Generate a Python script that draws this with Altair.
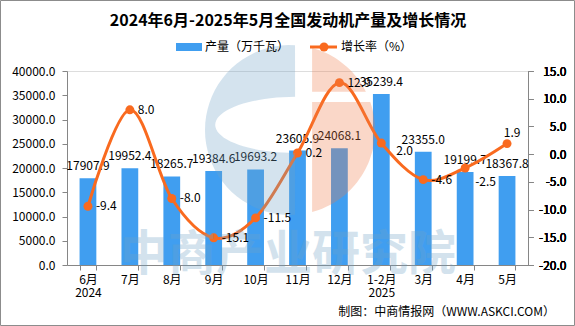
import math
import altair as alt
import pandas as pd

# ---------------- data ----------------
months = ["6月", "7月", "8月", "9月", "10月", "11月", "12月", "1-2月", "3月", "4月", "5月"]
output = [17907.9, 19952.4, 18265.7, 19384.6, 19693.2, 23605.9, 24068.1, 35239.4, 23355.0, 19199.7, 18367.8]
growth = [-9.4, 8.0, -8.0, -15.1, -11.5, 0.2, 12.9, 2.0, -4.6, -2.5, 1.9]
year_labels = {"6月": "2024", "1-2月": "2025"}
left_ticks = [0, 5000, 10000, 15000, 20000, 25000, 30000, 35000, 40000]
right_ticks = [-20, -15, -10, -5, 0, 5, 10, 15]

title_text = "2024年6月-2025年5月全国发动机产量及增长情况"
legend_bar = "产量（万千瓦）"
legend_line = "增长率（%）"
source_text = "制图：中商情报网（WWW.ASKCI.COM）"
watermark_text = "中商产业研究院"

# ---------------- style ----------------
W, H = 461, 194
PAD = {"left": 67, "top": 71, "right": 47, "bottom": 61}
FONT = "Noto Sans CJK SC"
BLUE = "#409EF0"
ORANGE = "#F96A1F"
AXIS = "#868686"
WM_BLUE = "#6fa3c7"
WM_ORANGE = "#ee7a4a"

df = pd.DataFrame({"month": months, "output": output, "growth": growth})
df["out_label"] = [f"{v:.1f}" for v in output]
df["g_label"] = [f"{v:.1f}" for v in growth]

label_expr = " : ".join(
    [f"datum.value == '{m}' ? ['{m}', '{y}']" for m, y in year_labels.items()]
) + " : datum.value"

x_enc = alt.X(
    "month:N", sort=months,
    scale=alt.Scale(paddingInner=0.6, paddingOuter=0.3),
    axis=alt.Axis(title=None, labelAngle=0, tickBand="extent", labelExpr=label_expr,
                  domainColor=AXIS, tickColor=AXIS, tickSize=5, labelPadding=4,
                  labelFontSize=12, labelColor="#000", labelLineHeight=13, labelFont=FONT),
)

y_left = alt.Y(
    "output:Q",
    scale=alt.Scale(domain=[0, 40000], nice=False),
    axis=alt.Axis(title=None, values=left_ticks, format=".1f", grid=False,
                  domainColor=AXIS, tickColor=AXIS, tickSize=5, labelPadding=7,
                  labelFontSize=12, labelColor="#000", labelFont=FONT),
)

y_right = alt.Y(
    "growth:Q",
    scale=alt.Scale(domain=[-20, 15], nice=False),
    axis=alt.Axis(title=None, orient="right", values=right_ticks, grid=False,
                  labelExpr="replace(format(datum.value, '.1f'), '\u2212', '-')",
                  labelAlign="right", labelPadding=33,
                  domainColor=AXIS, tickColor=AXIS, tickSize=5,
                  labelFontSize=12, labelColor="#000", labelFont=FONT),
)

base = alt.Chart(df)

bars = base.mark_bar(color=BLUE).encode(x=x_enc, y=y_left)
bar_text = base.mark_text(dy=-12, fontSize=12, color="#000", font=FONT).encode(
    x=x_enc, y=y_left, text="out_label:N")
left_group = alt.layer(bars, bar_text)

line = base.mark_line(color=ORANGE, strokeWidth=3, interpolate="cardinal").encode(x=x_enc, y=y_right)
pts = base.mark_point(filled=True, color=ORANGE, size=80, opacity=1).encode(x=x_enc, y=y_right)

special = {"1-2月": (15, 8, "left"), "4月": (10, 14, "left"), "5月": (5, -11, "center")}
g_layers = [
    base.transform_filter(alt.FieldOneOfPredicate(field="month", oneOf=[m for m in months if m not in special]))
    .mark_text(dx=8, align="left", baseline="middle", fontSize=12, color="#000", font=FONT)
    .encode(x=x_enc, y=y_right, text="g_label:N")
]
for m, (dx, dy, al) in special.items():
    g_layers.append(
        base.transform_filter(alt.datum.month == m)
        .mark_text(dx=dx, dy=dy, align=al, baseline="middle", fontSize=12, color="#000", font=FONT)
        .encode(x=x_enc, y=y_right, text="g_label:N")
    )
right_group = alt.layer(line, pts)

# ---------------- decorations (pixel positions relative to the plot origin) ----------------
one = pd.DataFrame({"k": [0]})
ox, oy = PAD["left"], PAD["top"]


def poly(points):
    return "M" + " L".join(f"{x:.3f},{y:.3f}" for x, y in points) + " Z"


def arc_pts(cx, cy, rx, ry, a0, a1, n=40):
    return [(cx + rx * math.cos(math.radians(a0 + (a1 - a0) * i / n)),
             cy + ry * math.sin(math.radians(a0 + (a1 - a0) * i / n))) for i in range(n + 1)]


# blue "C"
c_outer = arc_pts(0, 0, 1, 1, 273.4, 86.6)
c_inner = arc_pts(0.06, -0.06, 0.94, 0.33, 90, 270)
blue_path = poly(c_outer + c_inner)
# orange right part with a horizontal cut
t0 = math.degrees(math.atan2(-0.966, 0.26))
o_top = arc_pts(0, 0, 1, 1, t0, math.degrees(math.asin(-0.45)), 20) + [(0.26, -0.45)]
o_bot = [(0.26, -0.33)] + arc_pts(0, 0, 1, 1, math.degrees(math.asin(-0.33)), -t0, 40)
orange_path = poly(o_top) + " " + poly(o_bot)

LOGO_R = 85
logo_size = (2 * LOGO_R) ** 2
logo_blue = alt.Chart(one).mark_point(shape=blue_path, filled=True, fill=WM_BLUE, opacity=0.3,
                                      size=logo_size, strokeWidth=0).encode(
    x=alt.value(290 - ox), y=alt.value(130 - oy))
logo_orange = alt.Chart(one).mark_point(shape=orange_path, filled=True, fill=WM_ORANGE, opacity=0.3,
                                        size=logo_size, strokeWidth=0).encode(
    x=alt.value(290 - ox), y=alt.value(130 - oy))
wm = alt.Chart(one).mark_text(text=watermark_text, fontSize=48, fontWeight="bold", font=FONT,
                              color=WM_BLUE, opacity=0.3, align="center", baseline="middle").encode(
    x=alt.value(288 - ox), y=alt.value(256 - oy))

title = alt.Chart(one).mark_text(text=title_text, fontSize=16, fontWeight="bold", font=FONT,
                                 color="#000", align="center", baseline="middle").encode(
    x=alt.value(288 - ox), y=alt.value(21 - oy))

leg_rect = alt.Chart(one).mark_rect(color=BLUE).encode(
    x=alt.value(176 - ox), x2=alt.value(202 - ox), y=alt.value(43 - oy), y2=alt.value(51 - oy))
leg_t1 = alt.Chart(one).mark_text(text=legend_bar, fontSize=12, font=FONT, color="#000",
                                  align="left", baseline="middle").encode(
    x=alt.value(205 - ox), y=alt.value(47 - oy))
leg_line = alt.Chart(one).mark_rule(color=ORANGE, strokeWidth=3).encode(
    x=alt.value(310 - ox), x2=alt.value(337 - ox), y=alt.value(47 - oy))
leg_dot = alt.Chart(one).mark_point(filled=True, color=ORANGE, size=80, opacity=1).encode(
    x=alt.value(324 - ox), y=alt.value(47 - oy))
leg_t2 = alt.Chart(one).mark_text(text=legend_line, fontSize=12, font=FONT, color="#000",
                                  align="left", baseline="middle").encode(
    x=alt.value(341 - ox), y=alt.value(47 - oy))

source = alt.Chart(one).mark_text(text=source_text, fontSize=12, font=FONT, color="#000",
                                  align="right", baseline="middle").encode(
    x=alt.value(555 - ox), y=alt.value(312 - oy))

frame = alt.Chart(one).mark_rect(fillOpacity=0, stroke="#8c8c8c", strokeWidth=1).encode(
    x=alt.value(0.5 - ox), x2=alt.value(574.5 - ox), y=alt.value(0.5 - oy), y2=alt.value(325.5 - oy))

chart = alt.layer(
    left_group, right_group, logo_blue, logo_orange, wm, *g_layers,
    title, leg_rect, leg_t1, leg_line, leg_dot, leg_t2, source, frame
).resolve_scale(y="independent").properties(
    width=W, height=H, padding=PAD, autosize=alt.AutoSizeParams(type="none")
).configure_view(stroke=None).configure(font=FONT, background="white")

chart.save("out.html", embed_options={"renderer": "svg", "actions": False})
